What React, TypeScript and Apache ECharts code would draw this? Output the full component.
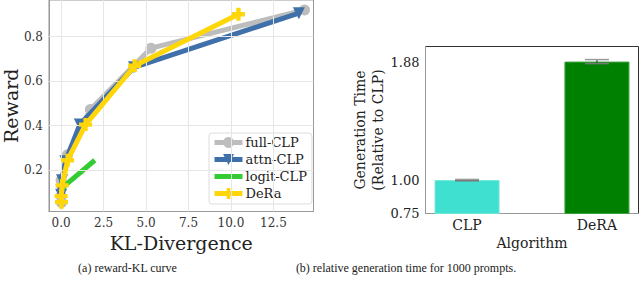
import React, { useEffect, useRef } from "react";
import * as echarts from "echarts";

// ---- Data: (a) reward-KL curve ----
const fullCLP: number[][] = [[0.02, 0.055], [0.0, 0.085], [0.0, 0.155], [0.38, 0.27], [1.72, 0.473], [5.29, 0.748], [14.33, 0.919]];
const attnCLP: number[][] = [[0.0, 0.09], [0.02, 0.11], [0.05, 0.155], [0.25, 0.24], [1.1, 0.405], [4.29, 0.662], [14.0, 0.905]];
const logitCLP: number[][] = [[0.05, 0.115], [0.2, 0.13], [1.98, 0.245]];
const deRa: number[][] = [[0.02, 0.057], [0.0, 0.084], [0.06, 0.132], [0.38, 0.245], [1.44, 0.405], [4.33, 0.669], [10.44, 0.9]];
const klTicks = [0, 2.5, 5, 7.5, 10, 12.5];
const rewardTicks = [0.2, 0.4, 0.6, 0.8];

// ---- Data: (b) relative generation time ----
const algorithms = ["CLP", "DeRA"];
const genTime = [1.0, 1.887];
const genErr = [0.005, 0.015];
const genTicks = [0.75, 1.0, 1.88];
const barColors = ["#40e0d0", "#008000"];

const SERIF = "DejaVu Serif";
const PLUS = "path://M-1,-3H1V-1H3V1H1V3H-1V1H-3V-1H-1Z";

export default function App() {
  const ref = useRef<HTMLDivElement>(null);
  useEffect(() => {
    document.body.style.margin = "0";
    const chart = echarts.init(ref.current!, null, { renderer: "svg" });
    const gridLineData = [
      ...klTicks.map((v) => ({ xAxis: v })),
      ...rewardTicks.map((v) => ({ yAxis: v })),
    ];
    const option: any = {
      animation: false,
      backgroundColor: "#fff",
      grid: [
        { left: 43.5, top: -1, right: 326.5, bottom: 79.5, show: true, borderColor: "#999", borderWidth: 1, backgroundColor: "#fff" },
        { left: 425.5, top: 46.5, right: 1.5, bottom: 77.5, show: true, borderColor: "#333", borderWidth: 1 },
      ],
      xAxis: [
        {
          gridIndex: 0, type: "value", min: -0.715, max: 14.86,
          name: "KL-Divergence", nameLocation: "middle", nameGap: 14,
          nameTextStyle: { fontFamily: SERIF, fontSize: 19, color: "#222" },
          axisLine: { show: true, onZero: false, lineStyle: { color: "#999" } },
          axisTick: { show: false, customValues: klTicks },
          axisLabel: { customValues: klTicks, fontFamily: SERIF, fontSize: 12, color: "#333", margin: 5, formatter: (v: number) => v.toFixed(1) },
          splitLine: { show: false },
        },
        {
          gridIndex: 1, type: "value", min: -0.32, max: 1.32,
          name: "Algorithm", nameLocation: "middle", nameGap: 18,
          nameTextStyle: { fontFamily: SERIF, fontSize: 14, color: "#222" },
          axisLine: { show: true, onZero: false, lineStyle: { color: "#999" } },
          axisTick: { show: false, customValues: [0, 1] },
          axisLabel: { customValues: [0, 1], fontFamily: SERIF, fontSize: 14, color: "#222", margin: 4, formatter: (v: number) => algorithms[Math.round(v)] },
          splitLine: { show: false },
        },
      ],
      yAxis: [
        {
          gridIndex: 0, type: "value", min: 0.015, max: 0.964,
          name: "Reward", nameLocation: "middle", nameGap: 26,
          nameTextStyle: { fontFamily: SERIF, fontSize: 19, color: "#222" },
          axisLine: { show: true, onZero: false, lineStyle: { color: "#999" } },
          axisTick: { show: false, customValues: rewardTicks },
          axisLabel: { customValues: rewardTicks, fontFamily: SERIF, fontSize: 12, color: "#333", margin: 6, formatter: (v: number) => v.toFixed(1) },
          splitLine: { show: false },
        },
        {
          gridIndex: 1, type: "value", min: 0.75, max: 2.0,
          name: "Generation Time\n(Relative to CLP)", nameLocation: "middle", nameGap: 38,
          nameTextStyle: { fontFamily: SERIF, fontSize: 14, color: "#222", lineHeight: 18 },
          axisLine: { show: true, onZero: false, lineStyle: { color: "#999" } },
          axisTick: { show: false, customValues: genTicks },
          axisLabel: { customValues: genTicks, fontFamily: SERIF, fontSize: 13, color: "#222", margin: 6, formatter: (v: number) => v.toFixed(2) },
          splitLine: { show: false },
        },
      ],
      legend: {
        left: 209, top: 133, orient: "vertical",
        backgroundColor: "rgba(255,255,255,0.85)", borderColor: "#ddd", borderWidth: 1, borderRadius: 3,
        padding: [3, 5, 4, 3], itemGap: 4, itemWidth: 28, itemHeight: 13.5,
        lineStyle: { width: 5 },
        textStyle: { fontFamily: SERIF, fontSize: 13, color: "#222", padding: [0, 0, 0, -2] },
        data: [
          "full-CLP",
          "attn-CLP",
          { name: "logit-CLP", itemStyle: { opacity: 0 } },
          "DeRa",
        ],
      },
      series: [
        {
          name: "grid", type: "line", xAxisIndex: 0, yAxisIndex: 0, data: [], silent: true, z: 1,
          markLine: { symbol: "none", silent: true, label: { show: false }, lineStyle: { color: "#e6e6e6", width: 1, type: "solid" }, data: gridLineData },
        },
        {
          name: "full-CLP", type: "line", xAxisIndex: 0, yAxisIndex: 0, data: fullCLP, z: 2,
          symbol: "circle", symbolSize: 11, color: "#bdbdbd", lineStyle: { width: 5, color: "#bdbdbd" }, itemStyle: { color: "#bdbdbd" },
        },
        {
          name: "attn-CLP", type: "line", xAxisIndex: 0, yAxisIndex: 0, data: attnCLP, z: 3,
          symbol: "triangle", symbolRotate: 180, symbolSize: 12, color: "#3f70aa", lineStyle: { width: 5, color: "#3f70aa" }, itemStyle: { color: "#3f70aa" },
        },
        {
          name: "logit-CLP", type: "line", xAxisIndex: 0, yAxisIndex: 0, data: logitCLP, z: 4,
          symbol: "none", color: "#33cc33", lineStyle: { width: 5, color: "#33cc33" }, itemStyle: { color: "#33cc33" },
        },
        {
          name: "DeRa", type: "line", xAxisIndex: 0, yAxisIndex: 0, data: deRa, z: 5,
          symbol: PLUS, symbolSize: 13, color: "#ffd60a", lineStyle: { width: 5, color: "#ffd60a" }, itemStyle: { color: "#ffd60a" },
        },
        {
          name: "bars", type: "bar", xAxisIndex: 1, yAxisIndex: 1, barWidth: 65,
          data: genTime.map((v, i) => ({ value: [i, v], itemStyle: { color: barColors[i], borderColor: i === 0 ? "#6fe8dc" : "#3aa03a", borderWidth: 1 } })),
        },
        {
          name: "err", type: "custom", xAxisIndex: 1, yAxisIndex: 1, z: 10,
          data: genTime.map((v, i) => [i, v - genErr[i], v + genErr[i]]),
          renderItem: (params: any, api: any) => {
            const lo = api.coord([api.value(0), api.value(1)]);
            const hi = api.coord([api.value(0), api.value(2)]);
            const hw = 12;
            return {
              type: "group",
              children: [
                { type: "line", shape: { x1: lo[0], y1: lo[1], x2: hi[0], y2: hi[1] }, style: { stroke: "#222", lineWidth: 1 } },
                { type: "line", shape: { x1: lo[0] - hw, y1: lo[1], x2: lo[0] + hw, y2: lo[1] }, style: { stroke: "#777", lineWidth: 1.5 } },
                { type: "line", shape: { x1: hi[0] - hw, y1: hi[1], x2: hi[0] + hw, y2: hi[1] }, style: { stroke: "#999", lineWidth: 1.5 } },
              ],
            };
          },
        },
      ],
      graphic: [
        { type: "text", x: 127.5, y: 268, style: { text: "(a) reward-KL curve", fontFamily: "Liberation Serif", fontSize: 12, fill: "#222", textAlign: "center", textVerticalAlign: "middle" } },
        { type: "text", x: 406, y: 268, style: { text: "(b) relative generation time for 1000 prompts.", fontFamily: "Liberation Serif", fontSize: 12, fill: "#222", textAlign: "center", textVerticalAlign: "middle" } },
      ],
    };
    chart.setOption(option);
    return () => chart.dispose();
  }, []);
  return <div ref={ref} style={{ position: "fixed", left: 0, top: 0, width: 640, height: 291 }} />;
}
